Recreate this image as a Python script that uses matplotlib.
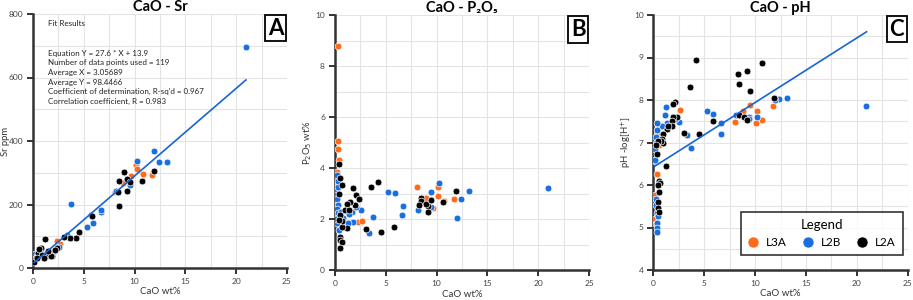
import matplotlib
matplotlib.use("Agg")
import matplotlib.pyplot as plt
import numpy as np
from matplotlib.lines import Line2D

plt.rcParams['font.family'] = ['Lato', 'DejaVu Sans']

groups = ["L3A", "L2B", "L2A"]
colors = {"L3A": "#FF6A1A", "L2B": "#1A6FE0", "L2A": "#000000"}

# ---- Panel A: CaO vs Sr ----
A_L3A_x = [2.33, 2.69, 8.1, 8.89, 9.68, 10.1, 10.24, 10.8, 11.74]
A_L3A_y = [86, 77, 240, 268, 289, 325, 312, 297, 294]
A_L2B_x = [20.96, 11.94, 10.24, 12.37, 13.2, 3.71, 8.14, 9.5, 5.71, 6.66, 6.66, 5.9, 5.28, 2.59, 3.3, 0.15, 0.23, 0.3, 0.4, 1.0, 1.5]
A_L2B_y = [696, 369, 338, 333, 334, 201, 242, 261, 168, 177, 183, 142, 129, 65, 103, 35, 44, 28, 38, 45, 52]
A_L2A_x = [8.92, 11.9, 8.46, 9.22, 9.52, 10.7, 8.37, 9.25, 8.5, 5.8, 4.53, 4.23, 3.61, 3.05, 2.39, 2.07, 1.84, 1.21, 1.05, 1.38, 0.76, 0.56, 0.5, 0.3, 0.46, 0.93, 1.25, 1.77, 2.17, 1.5, 1.1, 0.13, 0.35, 0.6]
A_L2A_y = [302, 305, 274, 280, 271, 274, 238, 242, 196, 165, 112, 95, 93, 98, 62, 54, 37, 91, 30, 45, 64, 55, 38, 30, 47, 42, 37, 39, 57, 52, 31, 20, 30, 60]
A_fit = (27.6, 13.9)
A_fit_range = (0.13, 20.96)
fit_text = ["Equation Y = 27.6 * X + 13.9",
            "Number of data points used = 119",
            "Average X = 3.05689",
            "Average Y = 98.4466",
            "Coefficient of determination, R-sq'd = 0.967",
            "Correlation coefficient, R = 0.983"]

# ---- Panel B: CaO vs P2O5 ----
B_L3A_x = [0.32, 0.29, 0.3, 0.42, 0.25, 0.3, 0.1, 8.05, 10.15, 10.12, 10.75, 11.69, 8.99, 9.65, 2.32, 2.7, 0.2]
B_L3A_y = [8.81, 5.06, 4.77, 4.31, 3.87, 3.43, 2.65, 3.25, 2.91, 3.28, 2.73, 2.8, 2.83, 2.44, 1.89, 1.92, 2.4]
B_L2B_x = [20.9, 13.19, 12.37, 11.98, 10.2, 9.49, 9.5, 8.15, 6.68, 6.65, 5.27, 5.9, 3.76, 3.37, 2.58, 1.83, 1.68, 2.1, 1.3, 1.36, 0.1, 0.2, 0.3, 0.15, 0.25, 0.35, 0.2, 0.3, 0.4, 0.25, 0.1, 0.45, 0.3, 0.6, 0.8]
B_L2B_y = [3.22, 3.12, 2.78, 2.05, 3.44, 3.06, 2.47, 2.36, 2.52, 2.16, 3.06, 3.04, 2.08, 1.45, 2.38, 1.91, 2.3, 2.5, 1.85, 2.2, 3.1, 3.75, 3.25, 2.95, 2.8, 2.55, 2.4, 2.25, 2.1, 1.85, 2.0, 1.6, 3.5, 2.3, 2.05]
B_L2A_x = [11.88, 10.67, 9.2, 9.17, 8.48, 8.48, 8.3, 8.92, 9.5, 4.25, 3.6, 1.83, 2.12, 2.35, 1.99, 1.46, 1.2, 1.04, 1.43, 3.04, 4.52, 5.83, 1.24, 0.7, 0.75, 0.55, 0.43, 0.49, 0.7, 0.4, 0.49, 0.55, 0.75, 0.55, 0.4]
B_L2A_y = [3.11, 2.67, 2.53, 2.3, 2.85, 2.72, 2.55, 2.6, 2.77, 3.46, 3.27, 3.23, 2.97, 2.8, 2.58, 2.66, 2.6, 2.37, 2.37, 1.62, 1.5, 1.7, 1.64, 1.68, 1.94, 2.15, 4.15, 3.62, 3.35, 3.0, 1.3, 1.2, 1.1, 0.88, 1.98]

# ---- Panel C: CaO vs pH ----
C_L3A_x = [11.72, 10.7, 10.15, 10.12, 9.53, 8.86, 8.06, 2.67, 0.65, 0.33, 0.56, 0.33, 0.15, 0.2, 0.23]
C_L3A_y = [7.85, 7.53, 7.73, 7.45, 7.88, 7.73, 7.48, 7.76, 7.4, 7.2, 6.93, 6.27, 5.76, 5.2, 5.09]
C_L2B_x = [20.92, 13.17, 12.38, 11.95, 10.16, 9.44, 9.44, 8.16, 6.65, 6.62, 5.9, 5.24, 3.72, 3.35, 2.56, 2.13, 1.28, 1.15, 1.31, 0.82, 0.39, 0.33, 0.26, 0.23, 0.2, 0.2, 0.13, 0.17, 0.28, 0.26, 0.33, 0.5, 0.38, 0.33, 0.33]
C_L2B_y = [7.85, 8.05, 8.02, 8.0, 7.59, 7.59, 7.55, 7.64, 7.47, 7.19, 7.66, 7.75, 6.86, 7.18, 7.49, 7.55, 7.83, 7.64, 7.46, 7.4, 7.45, 7.29, 7.12, 7.0, 6.85, 6.57, 6.59, 5.57, 5.68, 5.53, 5.35, 5.27, 5.11, 4.99, 4.89]
C_L2A_x = [10.68, 9.24, 8.32, 8.45, 9.47, 11.86, 4.19, 3.6, 8.4, 8.91, 9.17, 4.52, 3.02, 5.83, 2.1, 1.9, 2.33, 1.97, 1.81, 1.55, 1.87, 1.31, 1.44, 0.92, 0.89, 1.0, 0.74, 0.48, 0.25, 0.39, 1.21, 0.59, 0.7, 0.5, 0.59, 0.49, 0.49, 0.55]
C_L2A_y = [8.86, 8.68, 8.61, 8.38, 8.21, 8.05, 8.94, 8.31, 7.65, 7.59, 7.53, 7.19, 7.23, 7.5, 7.95, 7.9, 7.6, 7.59, 7.5, 7.4, 7.4, 7.31, 7.4, 7.2, 7.08, 7.0, 7.04, 7.04, 6.93, 6.73, 6.45, 6.1, 6.05, 6.0, 5.84, 5.59, 5.45, 5.37]
C_fit = (0.152, 6.42)
C_fit_range = (0.13, 20.96)

fig = plt.figure(figsize=(9.13, 3.0), dpi=100)
axA = fig.add_axes([33/913, 32/300, 254/913, 254/300])
axB = fig.add_axes([334.7/913, 29.7/300, 254.6/913, 255/300])
axC = fig.add_axes([653.3/913, 30/300, 254.4/913, 255/300])

line_col = "#1565D8"

def style(ax, ylim, ymajor, yminor, ylabel, ylabel_x, title, letter):
    ax.set_xlim(0, 25)
    ax.set_ylim(*ylim)
    ax.set_xticks(np.arange(0, 25.1, 5))
    ax.set_xticks(np.arange(0, 25.1, 2.5), minor=True)
    ax.set_yticks(np.arange(ylim[0], ylim[1] + 1e-9, ymajor))
    ax.set_yticks(np.arange(ylim[0], ylim[1] + 1e-9, yminor), minor=True)
    ax.grid(True, which='both', color='#E4E4E4', lw=0.8)
    ax.set_axisbelow(True)
    for s in ['top', 'right']:
        ax.spines[s].set_visible(False)
    for s in ['left', 'bottom']:
        ax.spines[s].set_color('#333333')
        ax.spines[s].set_linewidth(1.8)
    ax.tick_params(which='major', direction='out', length=4, width=1.4,
                   color='#333333', labelsize=6, labelcolor='#444444', pad=3)
    ax.tick_params(which='minor', length=0)
    ax.set_xlabel("CaO wt%", fontsize=7, color='#333333', labelpad=2)
    ax.set_ylabel(ylabel, fontsize=6.8, color='#333333')
    ax.yaxis.set_label_coords(ylabel_x, 0.5)
    ax.set_title(title, fontsize=10.5, fontweight='bold', pad=1)
    ax.text(0.985, 0.985, letter, transform=ax.transAxes, ha='right', va='top',
            fontsize=16, fontweight='bold',
            bbox=dict(boxstyle='square,pad=0.12', fc='white', ec='black', lw=1.3))

def scatter(ax, data):
    for g, (xs, ys) in zip(groups, data):
        ax.scatter(xs, ys, s=24, c=colors[g], edgecolors='white', linewidths=0.5, zorder=3)

scatter(axA, [(A_L3A_x, A_L3A_y), (A_L2B_x, A_L2B_y), (A_L2A_x, A_L2A_y)])
xr = np.array(A_fit_range)
axA.plot(xr, A_fit[0] * xr + A_fit[1], color=line_col, lw=1.2, zorder=4)
style(axA, (0, 800), 200, 100, "Sr ppm", -0.092, "CaO - Sr", "A")
axA.text(0.06, 0.975, "Fit Results", transform=axA.transAxes, fontsize=5.8, va='top', color='#222222')
axA.text(0.06, 0.86, "\n".join(fit_text), transform=axA.transAxes, fontsize=5.8,
         va='top', color='#222222', linespacing=1.45)

scatter(axB, [(B_L3A_x, B_L3A_y), (B_L2B_x, B_L2B_y), (B_L2A_x, B_L2A_y)])
style(axB, (0, 10), 2, 1, "P$_2$O$_5$ wt%", -0.08, "CaO - P\u2082O\u2085", "B")

scatter(axC, [(C_L3A_x, C_L3A_y), (C_L2B_x, C_L2B_y), (C_L2A_x, C_L2A_y)])
xr = np.array(C_fit_range)
axC.plot(xr, C_fit[0] * xr + C_fit[1], color=line_col, lw=1.2, zorder=4)
style(axC, (4, 10), 1, 0.5, "pH -log[H$^{+}$]", -0.076, "CaO - pH", "C")

handles = [Line2D([], [], marker='o', ls='', markersize=8, markerfacecolor=colors[g],
                  markeredgecolor='white', markeredgewidth=0.5) for g in groups]
leg = axC.legend(handles, groups, title="Legend", ncol=3, loc='lower right',
                 bbox_to_anchor=(0.982, 0.059), borderaxespad=0, fontsize=8.5,
                 title_fontsize=9.5, frameon=True, fancybox=False, edgecolor='black',
                 handletextpad=0.7, columnspacing=1.4, borderpad=0.6, handlelength=0.8)
leg.get_frame().set_linewidth(1.2)

fig.savefig("out.png", dpi=100)
